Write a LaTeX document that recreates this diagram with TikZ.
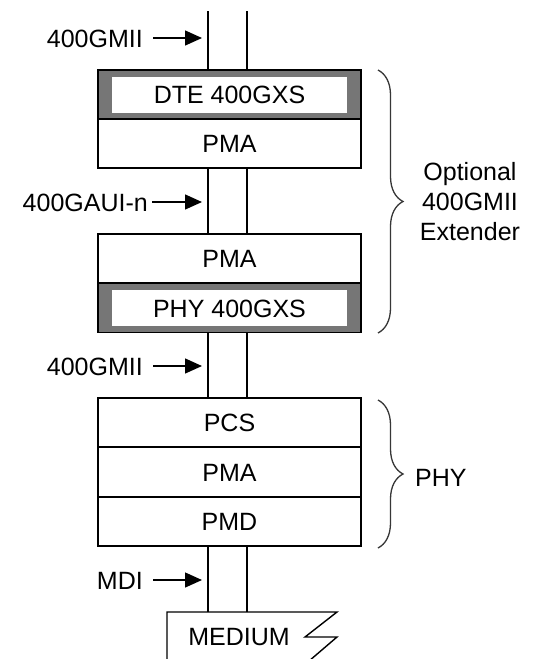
\documentclass[tikz,border=0pt]{standalone}
\usepackage{fontspec}
\setmainfont{Liberation Sans}
\usetikzlibrary{arrows.meta,decorations.pathreplacing}
\definecolor{gxs}{RGB}{118,118,118}
\definecolor{bracec}{RGB}{55,55,55}
\begin{document}
\begin{tikzpicture}[x=1pt,y=-1pt,
  lbl/.style={font=\fontsize{25}{30}\selectfont},
  layer/.style={draw=black,line width=1.6pt,fill=white,minimum width=263pt,minimum height=49pt,inner sep=0pt,text height=18pt,text depth=0pt,lbl},
  gxsframe/.style={draw=black,line width=1.6pt,fill=gxs,minimum width=263pt,minimum height=49pt,inner sep=0pt},
  gxsinner/.style={fill=white,minimum width=235pt,minimum height=36pt,inner sep=0pt,text height=18pt,text depth=0pt,lbl},
  bus/.style={line width=1.4pt},
  arr/.style={line width=1.4pt,-{Triangle[length=17pt,width=15pt]}},
  tag/.style={lbl,inner sep=0pt,text height=18pt,text depth=0pt,anchor=east},
  brc/.style={draw=bracec,line width=1.3pt,decorate,decoration={brace,amplitude=25pt}},
  medium/.style={line width=1.4pt},
]
\useasboundingbox[fill=white] (0,0) rectangle (533,659);

% optional extender, DTE side
\node[gxsframe] (dte) at (229.5,94.5) {};
\node[gxsinner] (dtein) at (dte.center) {DTE 400GXS};
\node[layer] (pma1) at (229.5,143.5) {PMA};

% optional extender, PHY side
\node[layer] (pma2) at (229.5,258.5) {PMA};
\node[gxsframe] (phyx) at (229.5,308) {};
\node[gxsinner] (phyin) at (phyx.center) {PHY 400GXS};

% PHY
\node[layer] (pcs) at (229.5,422.5) {PCS};
\node[layer] (pma3) at (229.5,472) {PMA};
\node[layer] (pmd) at (229.5,521.5) {PMD};

% medium
\coordinate (medTL) at (167,612);
\draw[medium] (167,661) -- (medTL) -- (337,612) -- (305,637) -- (337,637) -- (309,661);
\node[lbl,inner sep=0pt,text height=18pt,text depth=0pt] (med) at (239,636) {MEDIUM};

% bus lines
\coordinate (busL) at (208,11);
\coordinate (busR) at (247,11);
\draw[bus] (busL) -- (busL |- dte.north);
\draw[bus] (busR) -- (busR |- dte.north);
\draw[bus] (busL |- pma1.south) -- (busL |- pma2.north);
\draw[bus] (busR |- pma1.south) -- (busR |- pma2.north);
\draw[bus] (busL |- phyx.south) -- (busL |- pcs.north);
\draw[bus] (busR |- phyx.south) -- (busR |- pcs.north);
\draw[bus] (busL |- pmd.south) -- (busL |- medTL);
\draw[bus] (busR |- pmd.south) -- (busR |- medTL);

% interface labels
\node[tag] (gmii1) at (143,38) {400GMII};
\coordinate (g1tip) at (202,38);
\draw[arr] ([xshift=10pt]gmii1.east) -- (g1tip);

\node[tag] (gaui) at (148,202) {400GAUI-n};
\coordinate (gauitip) at (202,202);
\draw[arr] ([xshift=4pt]gaui.east) -- (gauitip);

\node[tag] (gmii2) at (143,366) {400GMII};
\coordinate (g2tip) at (202,366);
\draw[arr] ([xshift=10pt]gmii2.east) -- (g2tip);

\node[tag] (mdi) at (143,580) {MDI};
\coordinate (mditip) at (202,580);
\draw[arr] ([xshift=10pt]mdi.east) -- (mditip);

% braces
\coordinate (b1a) at (378,70);
\coordinate (b1b) at (378,333);
\draw[brc] (b1a) -- (b1b);
\node[lbl,align=center,inner sep=0pt] (ext) at (470,202) {Optional\\400GMII\\Extender};

\coordinate (b2a) at (378,400);
\coordinate (b2b) at (378,548);
\draw[brc] (b2a) -- (b2b);
\node[lbl,anchor=west,inner sep=0pt,text height=18pt,text depth=0pt] (phy) at (415,477) {PHY};
\end{tikzpicture}
\end{document}
